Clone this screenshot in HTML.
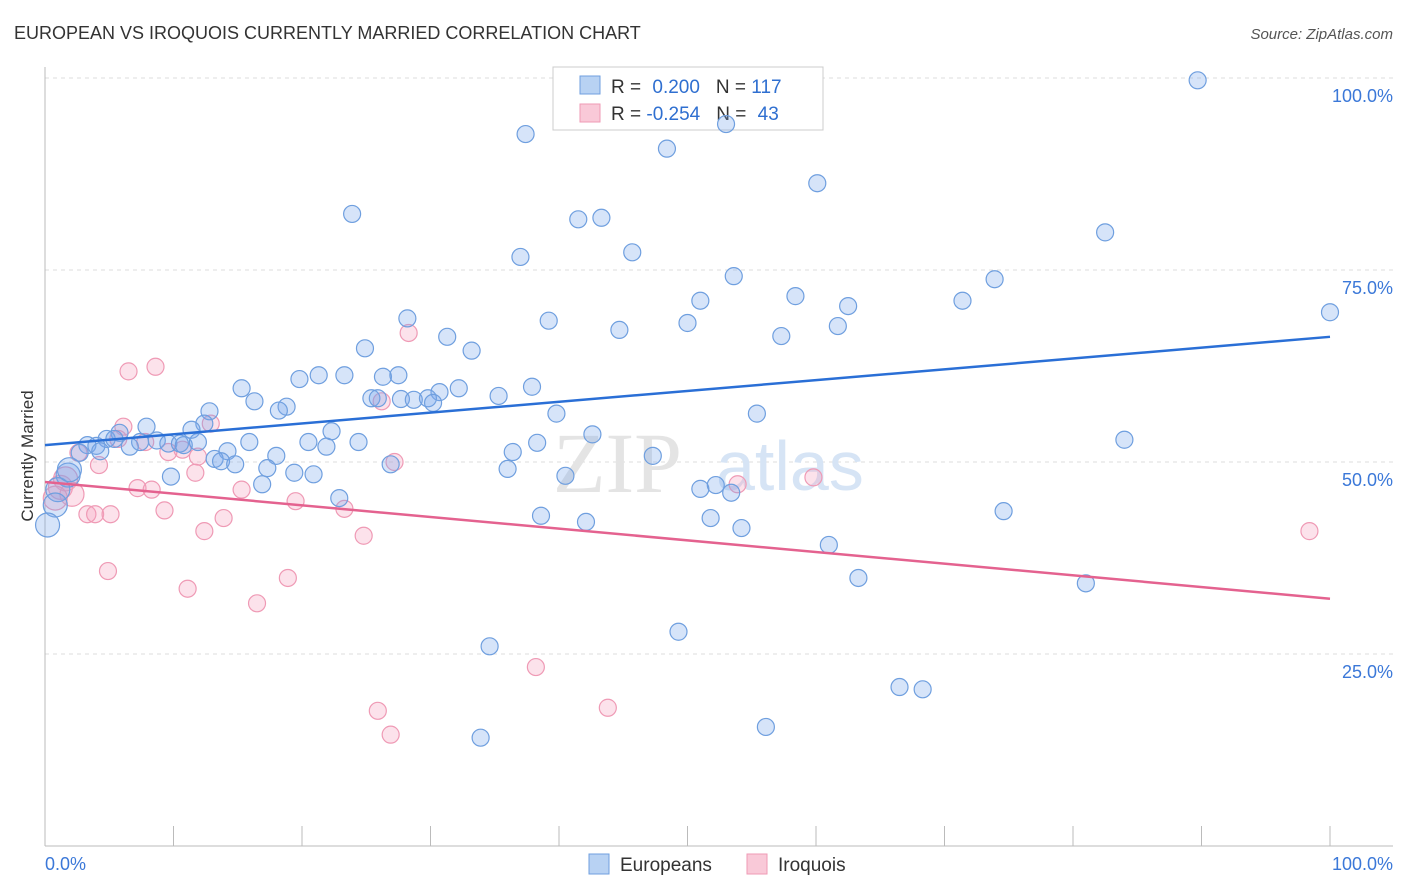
<!DOCTYPE html>
<html><head><meta charset="utf-8"><style>
body{margin:0;background:#fff;font-family:"Liberation Sans",sans-serif;}
svg{display:block}
</style></head><body>
<svg id="chart" width="1406" height="892">
<text x="14" y="39" font-size="18" fill="#333">EUROPEAN VS IROQUOIS CURRENTLY MARRIED CORRELATION CHART</text>
<text x="1393" y="39" font-size="15" fill="#555" font-style="italic" text-anchor="end">Source: ZipAtlas.com</text>
<text x="0" y="0" transform="translate(33,456) rotate(-90)" font-size="17" fill="#333" text-anchor="middle">Currently Married</text>
<g id="grid"></g>
<g><text x="553" y="492" font-family="Liberation Serif,serif" font-size="86" fill="#e4e4e4">ZIP</text><text x="716" y="490" font-size="70" fill="#d6e4f5">atlas</text></g>
<g>
<rect x="553" y="67" width="270" height="63" fill="#fff" stroke="#ccc"/>
<rect x="580" y="76" width="20" height="18" fill="#b8d2f3" stroke="#6f9fdf"/>
<rect x="580" y="104" width="20" height="18" fill="#f9c9d8" stroke="#ef9ab5"/>
<text x="611" y="93" font-size="19" fill="#333">R = <tspan fill="#2f6fd0" dx="6">0.200</tspan><tspan dx="16" fill="#333">N = </tspan><tspan fill="#2f6fd0">117</tspan></text>
<text x="611" y="120" font-size="19" fill="#333">R = <tspan fill="#2f6fd0" dx="0">-0.254</tspan><tspan dx="16" fill="#333">N = </tspan><tspan fill="#2f6fd0" dx="6">43</tspan></text>
</g>
<g id="pts"></g>
<g id="lines"></g>
<g>
<rect x="589" y="854" width="20" height="20" fill="#b8d2f3" stroke="#6f9fdf"/>
<text x="620" y="871" font-size="19" fill="#333">Europeans</text>
<rect x="747" y="854" width="20" height="20" fill="#f9c9d8" stroke="#ef9ab5"/>
<text x="778" y="871" font-size="19" fill="#333">Iroquois</text>
</g>
</svg>
<script>
const blueX=[89.7,37.4,48.4,53.0,60.1,23.9,41.5,43.3,82.5,37.0,45.7,53.6,73.9,51.0,58.4,71.4,100,62.5,28.2,39.2,50.0,61.7,31.3,44.7,57.3,24.9,33.2,19.8,21.3,23.3,26.3,27.5,15.3,32.2,37.9,30.7,35.3,25.4,25.9,27.7,28.7,29.8,30.2,16.3,18.8,18.2,12.8,39.8,55.4,12.4,7.9,11.4,22.3,5.8,42.6,4.8,5.4,3.3,4.0,7.4,8.7,9.6,10.5,10.8,11.9,15.9,20.5,24.4,38.3,6.6,21.9,4.3,2.7,14.2,36.4,18.0,47.3,84.0,13.2,13.7,14.8,26.9,17.3,36.0,19.4,20.9,9.8,1.8,40.5,16.9,52.2,51.0,53.4,1.0,22.9,0.8,74.6,38.6,51.8,42.1,54.2,0.2,61.0,63.3,81.0,34.6,49.3,66.5,68.3,56.1,33.9,1.9];
const blueY=[99.7,92.7,90.8,94.0,86.3,82.3,81.6,81.8,79.9,76.7,77.3,74.2,73.8,71.0,71.6,71.0,69.5,70.3,68.7,68.4,68.1,67.7,66.3,67.2,66.4,64.8,64.5,60.8,61.3,61.3,61.1,61.3,59.6,59.6,59.8,59.1,58.6,58.3,58.3,58.2,58.1,58.3,57.7,57.9,57.2,56.7,56.6,56.3,56.3,55.0,54.6,54.2,54.0,53.8,53.6,53.0,53.0,52.2,52.1,52.6,52.8,52.4,52.4,52.2,52.6,52.6,52.6,52.6,52.5,52.0,52.0,51.4,51.2,51.4,51.3,50.8,50.8,52.9,50.4,50.1,49.7,49.7,49.2,49.1,48.6,48.4,48.1,48.3,48.2,47.1,47.0,46.5,46.0,46.4,45.3,44.4,43.6,43.0,42.7,42.2,41.4,41.8,39.2,34.9,34.2,26.0,27.9,20.7,20.4,15.5,14.1,49.0];
const pinkX=[6.5,8.6,28.3,6.1,5.7,12.9,7.8,9.6,10.7,11.9,4.2,2.6,11.7,27.2,26.2,1.6,1.2,2.1,7.2,8.3,15.3,19.5,9.3,3.3,3.9,5.1,13.9,23.3,12.4,24.8,4.9,18.9,11.1,16.5,53.9,59.8,98.4,38.2,25.9,43.8,26.9,0.8];
const pinkY=[61.8,62.4,66.8,54.6,53.0,55.0,52.6,51.3,51.6,50.7,49.6,51.2,48.6,50.0,57.9,47.8,46.7,45.8,46.6,46.4,46.4,44.9,43.7,43.2,43.2,43.2,42.7,43.9,41.0,40.4,35.8,34.9,33.5,31.6,47.1,48.0,41.0,23.3,17.6,18.0,14.5,45.3];
const blueTrend=[52.2,66.3];
const pinkTrend=[47.4,32.2];
const yTicks=[25,50,75,100];
const xTickCount=10;
const NS='http://www.w3.org/2000/svg';
const sx=v=>45+v*12.85, sy=v=>846-v*7.68;
function mk(t,a,p){const e=document.createElementNS(NS,t);for(const k in a)e.setAttribute(k,a[k]);p.appendChild(e);return e;}
const grid=document.getElementById('grid');
for(const t of yTicks){
 const l=mk('line',{x1:45,x2:1393,y1:sy(t),y2:sy(t),stroke:'#ddd','stroke-dasharray':'4,4'},grid);
 
 
 const tx=mk('text',{x:1393,y:sy(t)+24,'font-size':18,fill:'#3b78d8','text-anchor':'end'},grid);
 tx.textContent=t.toFixed(1)+'%';
 
 
}
mk('line',{x1:45,x2:45,y1:67,y2:846,stroke:'#bbb'},grid);
mk('line',{x1:45,x2:1393,y1:846,y2:846,stroke:'#bbb'},grid);
for(let i=0;i<=xTickCount;i++){
 const x=sx(i*100/xTickCount);
 const tk=mk('line',{x1:x,x2:x,y1:826,y2:846,stroke:'#bbb'},grid);
 
 
}
const x0=mk('text',{x:45,y:870,'font-size':18,fill:'#3b78d8'},grid);x0.textContent='0.0%';


const x1=mk('text',{x:1393,y:870,'font-size':18,fill:'#3b78d8','text-anchor':'end'},grid);x1.textContent='100.0%';


const pts=document.getElementById('pts');
function series(X,Y,fill,stroke,name){
 X.forEach((x,i)=>{
  const big=(x<2.5)?12:8.5;
  const c=mk('circle',{cx:sx(x),cy:sy(Y[i]),r:big,fill:fill,stroke:stroke,'stroke-width':1.2},pts);
  
  
 });
}
series(pinkX,pinkY,'rgba(244,160,188,0.3)','#ef9ab5','iroquois-point');
series(blueX,blueY,'rgba(120,165,235,0.3)','#6f9fdf','european-point');
const lines=document.getElementById('lines');
const b=mk('line',{x1:sx(0),y1:sy(blueTrend[0]),x2:sx(100),y2:sy(blueTrend[1]),stroke:'#2a6fd6','stroke-width':2.5},lines);


const p=mk('line',{x1:sx(0),y1:sy(pinkTrend[0]),x2:sx(100),y2:sy(pinkTrend[1]),stroke:'#e4628f','stroke-width':2.5},lines);


</script>
</body></html>
